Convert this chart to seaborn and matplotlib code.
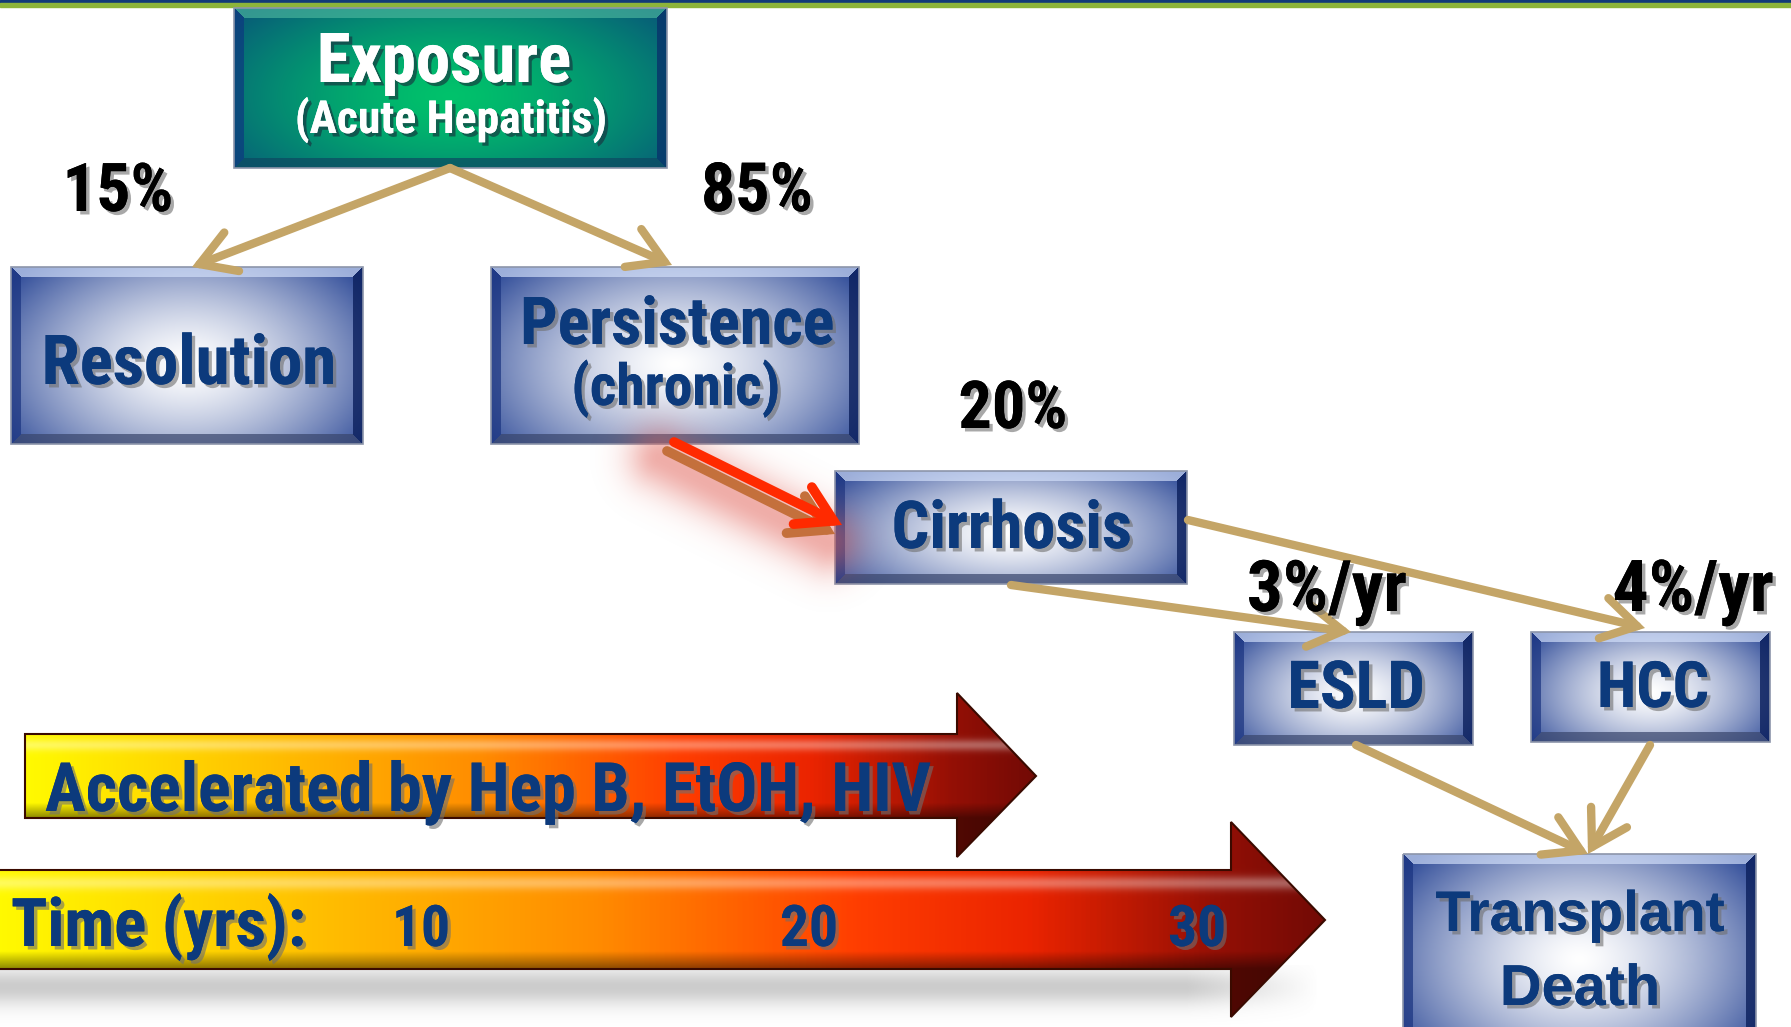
import numpy as np
import matplotlib
matplotlib.use("Agg")
import matplotlib.pyplot as plt
import matplotlib.patheffects as pe
from matplotlib.patches import Polygon, FancyArrowPatch
from matplotlib.colors import LinearSegmentedColormap
from matplotlib import font_manager
import seaborn as sns

# Natural history of hepatitis C
stages = ["Exposure", "Resolution", "Persistence", "Cirrhosis", "ESLD", "HCC", "Transplant"]
stage_sub = ["(Acute Hepatitis)", "", "(chronic)", "", "", "", "Death"]
rates = ["15%", "85%", "20%", "3%/yr", "4%/yr"]
time_ticks = [10, 20, 30]
cofactors = ["Hep B", "EtOH", "HIV"]

sns.set_theme(style="white")
installed = {f.name for f in font_manager.fontManager.ttflist}
NARROW = [f for f in ["Liberation Sans Narrow", "Roboto Condensed", "DejaVu Sans Condensed",
                      "Open Sans Condensed", "Liberation Sans", "DejaVu Sans"] if f in installed]
WIDE = [f for f in ["Liberation Sans", "DejaVu Sans"] if f in installed]
plt.rcParams["font.family"] = NARROW

W, H = 1791, 1027
fig = plt.figure(figsize=(W / 100, H / 100), dpi=100)
ax = fig.add_axes([0, 0, 1, 1])
ax.axis("off")
renderer = fig.canvas.get_renderer()

NAVY = "#0c3a7c"
TAN = "#c4a567"


def bevel_box(x0, y0, x1, y1, center, edge, light, dl_c, dr_c, db_c, bev=10):
    w, h = int(round(x1 - x0)), int(round(y1 - y0))
    yy, xx = np.mgrid[0:h, 0:w] + 0.5
    u = xx / w - 0.5
    v = yy / h - 0.55
    r = np.clip(np.hypot(u / 0.62, v / 0.8), 0, 1) ** 1.4
    img = np.array(center)[None, None] * (1 - r)[..., None] + np.array(edge)[None, None] * r[..., None]
    dist = np.stack([xx, w - xx, yy, h - yy])
    side = dist.argmin(0)
    inb = dist.min(0) < bev
    for k, col, m in [(0, dl_c, 0.7), (1, dr_c, 0.8), (2, light, 0.65), (3, db_c, 0.7)]:
        msk = inb & (side == k)
        img[msk] = img[msk] * (1 - m) + np.array(col) * m
    ax.imshow(img, extent=(x0, x1, y1, y0), aspect="auto", zorder=2, interpolation="bilinear")
    ax.add_patch(plt.Rectangle((x0, y0), x1 - x0, y1 - y0, fill=False, ec="#8c95aa", lw=1.2, zorder=3))


def blue_box(x0, y0, x1, y1):
    bevel_box(x0, y0, x1, y1, (1, 1, 1), (0.19, 0.3, 0.6), (0.84, 0.89, 0.99),
              (0.1, 0.2, 0.5), (0.04, 0.12, 0.36), (0.22, 0.27, 0.42))


def label(s, cx, base, width, color, family=NARROW, ha="center", shadow="#6f6f6f"):
    t = ax.text(cx, base, s, ha=ha, va="baseline", fontsize=40, fontweight="bold",
                color=color, family=family, zorder=6)
    w = t.get_window_extent(renderer).width
    t.set_fontsize(40 * width / w)
    t.set_path_effects([pe.withSimplePatchShadow(offset=(2.5, -2.5), shadow_rgbFace=shadow, alpha=0.6),
                        pe.Normal()])
    return t


def arrow(p0, p1, color=TAN, lw=6, zorder=4):
    a = FancyArrowPatch(p0, p1, arrowstyle="->,head_length=0.55,head_width=0.33", mutation_scale=45,
                        color=color, lw=lw, shrinkA=0, shrinkB=0, zorder=zorder,
                        capstyle="round", joinstyle="miter")
    ax.add_patch(a)


def grad_arrow(verts, body_y0, body_y1):
    cmap = LinearSegmentedColormap.from_list("heat", [
        (0.0, (1.0, 0.98, 0.0)), (0.25, (1.0, 0.74, 0.0)), (0.45, (1.0, 0.55, 0.0)),
        (0.65, (1.0, 0.24, 0.0)), (0.78, (0.92, 0.14, 0.0)), (0.92, (0.58, 0.06, 0.02)),
        (1.0, (0.45, 0.04, 0.02))])
    xs = [p[0] for p in verts]
    ys = [p[1] for p in verts]
    x0, x1, y0, y1 = min(xs), max(xs), min(ys), max(ys)
    nx, ny = 600, 200
    u = np.linspace(0, 1, nx)
    yv = np.linspace(y0, y1, ny)
    v = (yv - body_y0) / (body_y1 - body_y0)
    base = cmap(u)[None, :, :3].repeat(ny, 0)
    hl = np.exp(-((v - 0.13) / 0.07) ** 2)[:, None, None] * 0.35
    dk = np.clip((v - 0.82) / 0.18, 0, 1)[:, None, None] * 0.45
    img = base + (1 - base) * hl
    img = img * (1 - dk)
    poly = Polygon(verts, closed=True, fc="none", ec="#3a0a00", lw=1.5, zorder=5)
    im = ax.imshow(np.clip(img, 0, 1), extent=(x0, x1, y1, y0), aspect="auto", zorder=4)
    ax.add_patch(poly)
    im.set_clip_path(poly)


# top rule
ax.add_patch(plt.Rectangle((0, 0), W, 3, color="#123a78", zorder=1))
ax.add_patch(plt.Rectangle((0, 3), W, 4, color="#8db43a", zorder=1))

# boxes
bevel_box(234, 8, 667, 168, (0.0, 0.76, 0.42), (0.03, 0.36, 0.47), (0.3, 0.72, 0.62),
          (0.05, 0.22, 0.5), (0.03, 0.2, 0.42), (0.05, 0.28, 0.38))
blue_box(11, 267, 363, 444)
blue_box(491, 267, 859, 444)
blue_box(835, 471, 1187, 584)
blue_box(1234, 632, 1473, 745)
blue_box(1531, 632, 1770, 742)
blue_box(1403, 854, 1756, 1045)

# tan connectors
arrow((450, 168), (192, 267))
arrow((450, 168), (672, 265))
arrow((1011, 585), (1351, 632))
arrow((1188, 520), (1645, 628))
arrow((1356, 745), (1588, 854))
arrow((1650, 745), (1588, 854))

# soft red glow behind the persistence -> cirrhosis arrow
gx0, gx1, gy0, gy1 = 570, 920, 390, 620
gy, gx = np.mgrid[gy0:gy1, gx0:gx1] + 0.5
ax_, ay_, bx_, by_ = 660, 458, 828, 542
dx, dy = bx_ - ax_, by_ - ay_
tt = np.clip(((gx - ax_) * dx + (gy - ay_) * dy) / (dx * dx + dy * dy), 0, 1)
dd = np.hypot(gx - (ax_ + tt * dx), gy - (ay_ + tt * dy))
glow = np.zeros(gx.shape + (4,))
glow[..., 0], glow[..., 1], glow[..., 2] = 0.88, 0.36, 0.32
glow[..., 3] = np.exp(-(dd / 32) ** 2) * 0.5
ax.imshow(glow, extent=(gx0, gx1, gy1, gy0), aspect="auto", zorder=3.5)
arrow((667, 451), (835, 534), color="#c4703c", lw=7, zorder=4)
arrow((674, 442), (842, 525), color="#ff2a00", lw=7, zorder=4)

# soft shadow under the time arrow
shadow = np.zeros((80, 400, 4))
yy = np.linspace(0, 1, 80)[:, None]
xx = np.linspace(0, 1, 400)[None, :]
shadow[..., :3] = 0.5
shadow[..., 3] = np.exp(-((yy - 0.35) / 0.3) ** 2) * np.clip((1 - xx) * 10, 0, 1) * 0.4
ax.imshow(shadow, extent=(0, 1320, 1027, 965), aspect="auto", zorder=3)

grad_arrow([(25, 734), (957, 734), (957, 693), (1036, 776), (957, 857), (957, 818), (25, 818)], 734, 818)
grad_arrow([(-5, 870), (1231, 870), (1231, 822), (1325, 920), (1231, 1017), (1231, 969), (-5, 969)], 870, 969)

# texts
label(stages[0], 444, 82, 254, "white", shadow="#1a2a3a")
label(stage_sub[0], 451, 133, 312, "white", shadow="#1a2a3a")
label(stages[1], 189, 384, 294, NAVY)
label(stages[2], 677, 344, 314, NAVY)
label(stage_sub[2], 676, 405, 209, NAVY)
label(stages[3], 1012, 548, 240, NAVY)
label(stages[4], 1356, 708, 137, NAVY)
label(stages[5], 1653, 707, 112, NAVY)
label(stages[6], 1580, 931, 289, NAVY, family=WIDE)
label(stage_sub[6], 1580, 1005, 160, NAVY, family=WIDE)

label(rates[0], 118, 211, 111, "black")
label(rates[1], 757, 211, 112, "black")
label(rates[2], 1013, 428, 109, "black")
label(rates[3], 1327, 611, 160, "black")
label(rates[4], 1693, 611, 161, "black")

label("Accelerated by " + ", ".join(cofactors), 488, 811, 885, NAVY)
label("Time (yrs):", 11, 946, 295, NAVY, ha="left")
for yr in time_ticks:
    label(str(yr), 33 + 38.8 * yr, 946, 58, NAVY)

ax.set_xlim(0, W)
ax.set_ylim(H, 0)
fig.savefig("out.png", dpi=100, facecolor="white")
